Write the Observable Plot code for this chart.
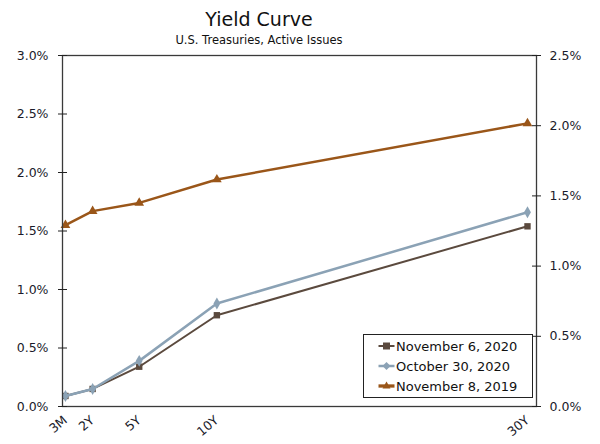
<!DOCTYPE html>
<html><head><meta charset="utf-8">
<script src="https://cdn.jsdelivr.net/npm/d3@7"></script>
<script src="https://cdn.jsdelivr.net/npm/@observablehq/plot@0.6"></script>
<style>
body{margin:0;background:#fff;font-family:"DejaVu Sans",Verdana,sans-serif;color:#111;}
#wrap{position:relative;width:600px;height:444px;overflow:hidden;}
#title{position:absolute;left:0;width:518px;top:8px;text-align:center;font-size:19px;line-height:1.164;}
#subtitle{position:absolute;left:0;width:518px;top:34px;text-align:center;font-size:11.5px;line-height:1.164;}
#chart{position:absolute;left:0;top:0;}
#legend{position:absolute;left:363px;top:334px;width:168px;height:61px;border:1px solid #222;background:#fff;padding-top:1px;}
.row{height:20px;display:flex;align-items:center;font-size:13px;white-space:nowrap;}
.row svg{margin-left:14px;margin-right:1px;}
</style></head><body>
<div id="wrap">
  <div id="chart"></div>
  <div id="title">Yield Curve</div>
  <div id="subtitle">U.S. Treasuries, Active Issues</div>
  <div id="legend"></div>
</div>
<script>
const maturities = ["3M", "2Y", "5Y", "10Y", "30Y"];
const years = [0.25, 2, 5, 10, 30];
const seriesNames = ["November 6, 2020", "October 30, 2020", "November 8, 2019"];
const nov6_2020 = [0.09, 0.15, 0.34, 0.78, 1.54];
const oct30_2020 = [0.09, 0.15, 0.39, 0.88, 1.66];
const nov8_2019 = [1.55, 1.67, 1.74, 1.94, 2.42];
const leftTicks = [0, 0.5, 1.0, 1.5, 2.0, 2.5, 3.0];
const rightTicks = [0, 0.5, 1.0, 1.5, 2.0, 2.5];

const colors = ["#5b4a3e", "#8ba2b5", "#9a5619"];
const symbols = ["square", "diamond", "triangle"];
const widths = [2, 2.5, 2.5];
const seriesValues = [nov6_2020, oct30_2020, nov8_2019];

const rowsFor = (vals, name) => vals.map((v, i) => ({series: name, year: years[i], value: v, maturity: maturities[i]}));
const rightScale = 3 / 2.5;
const rightPos = rightTicks.map(v => v * rightScale);

const seriesMarks = [];
seriesValues.forEach((vals, k) => {
  const data = rowsFor(vals, seriesNames[k]);
  seriesMarks.push(Plot.line(data, {x: "year", y: "value", stroke: colors[k], strokeWidth: widths[k]}));
  seriesMarks.push(Plot.dot(data, {x: "year", y: "value", symbol: () => symbols[k], fill: colors[k], r: 3.6}));
});

const chart = Plot.plot({
  width: 600,
  height: 444,
  marginTop: 55,
  marginBottom: 38,
  marginLeft: 62,
  marginRight: 64,
  style: {fontFamily: "DejaVu Sans, Verdana, sans-serif", fontSize: "12.5px", color: "#1a1a2a", background: "transparent"},
  x: {domain: [0.06, 30.58], label: null},
  y: {domain: [0, 3], label: null},
  symbol: {type: "identity"},
  marks: [
    ...seriesMarks,
    Plot.frame({stroke: "#3a3a3a", strokeWidth: 1.3}),
    Plot.axisY({anchor: "left", ticks: leftTicks, tickSize: 9, dx: 5, tickFormat: () => "", label: null, stroke: "#222"}),
    Plot.axisY({anchor: "left", ticks: leftTicks, tickSize: 0, tickPadding: 14, tickFormat: d => d.toFixed(1) + "%", label: null}),
    Plot.axisY({anchor: "right", ticks: rightPos, tickSize: 9, dx: -5, tickFormat: () => "", label: null, stroke: "#222"}),
    Plot.axisY({anchor: "right", ticks: rightPos, tickSize: 0, tickPadding: 13, tickFormat: d => (Math.round(d / rightScale * 10) / 10).toFixed(1) + "%", label: null}),
    Plot.axisX({ticks: years, tickSize: 0, tickPadding: 12, tickRotate: -40, tickFormat: d => maturities[years.indexOf(d)], label: null})
  ]
});
document.getElementById("chart").appendChild(chart);

const legend = document.getElementById("legend");
const symPath = {
  square: "M-3.5,-3.5h7v7h-7z",
  diamond: "M0,-4L4,0L0,4L-4,0z",
  triangle: "M0,-4.5L4,2.5L-4,2.5z"
};
seriesNames.forEach((name, k) => {
  const row = document.createElement("div");
  row.className = "row";
  row.innerHTML = `<svg width="17" height="12" viewBox="-8.5 -6 17 12"><line x1="-8" x2="8" y1="0" y2="0" stroke="${colors[k]}" stroke-width="${widths[k] + (k === 2 ? 0.8 : 0)}"/><path d="${symPath[symbols[k]]}" fill="${colors[k]}"/></svg><span>${name}</span>`;
  legend.appendChild(row);
});
</script>
</body></html>
